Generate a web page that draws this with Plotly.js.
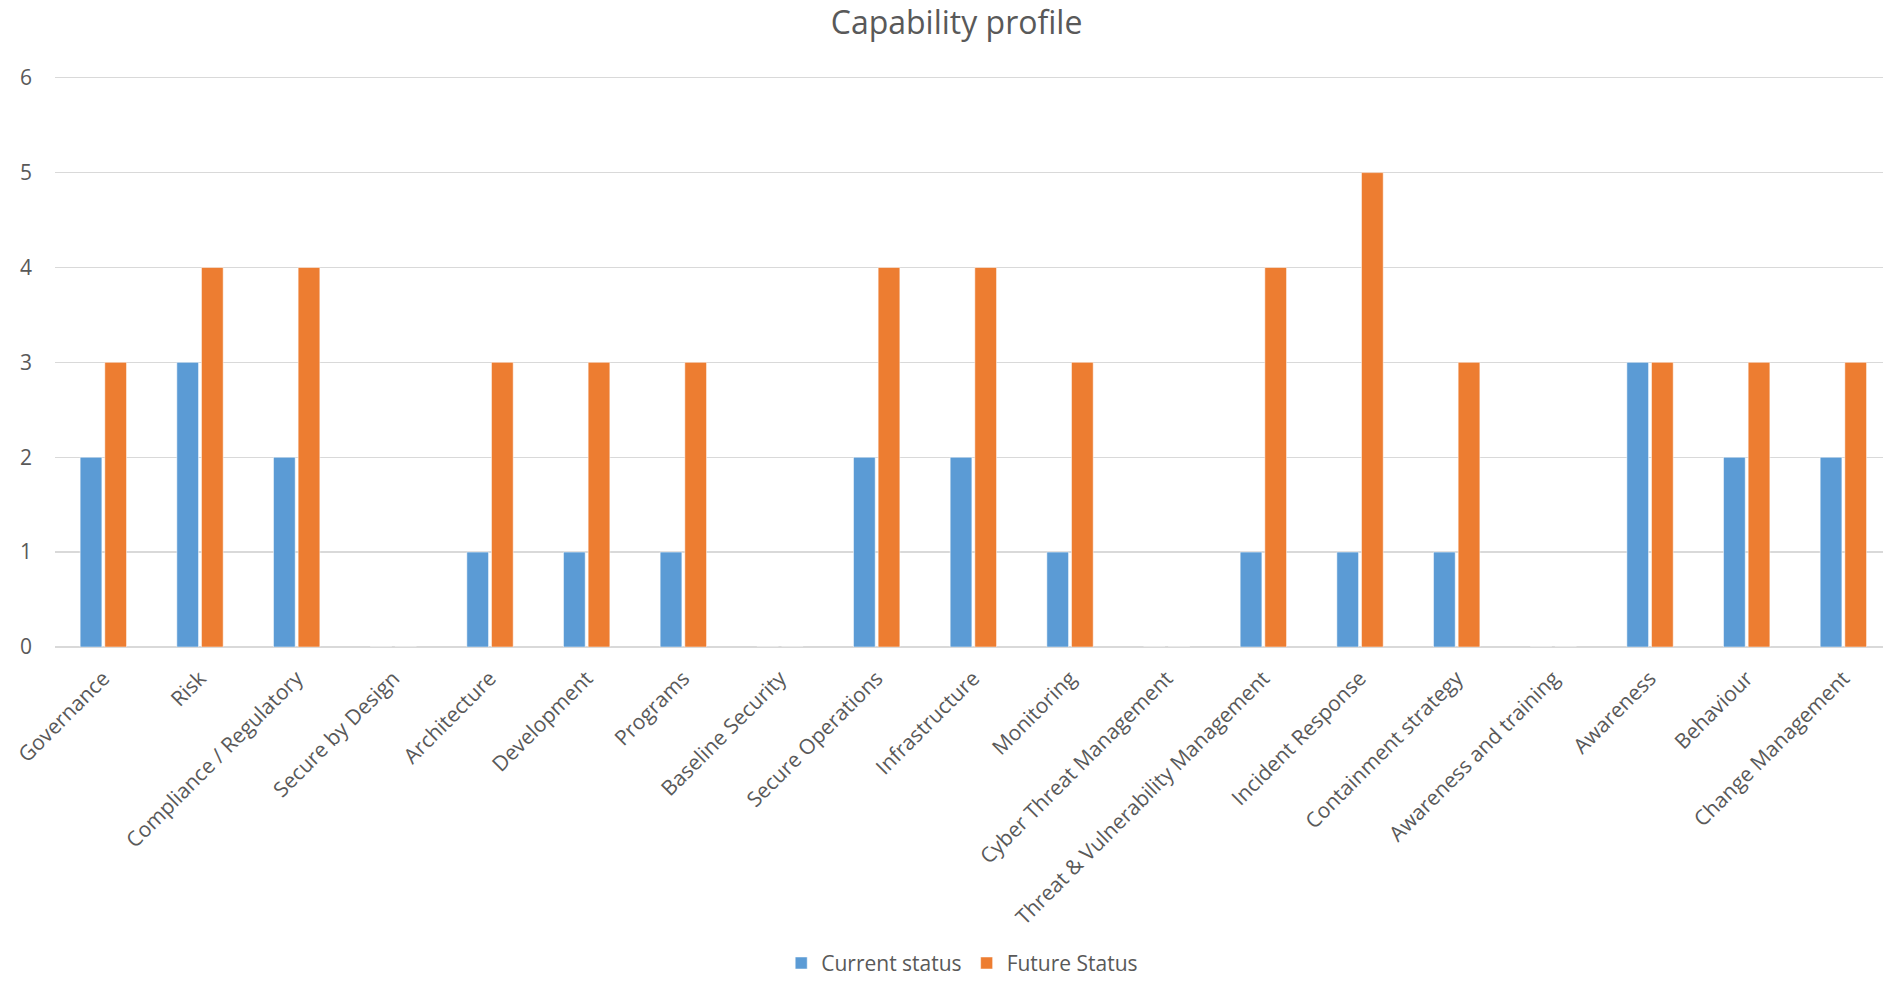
<!DOCTYPE html>
<html>
<head>
<meta charset="utf-8">
<script src="https://cdn.plot.ly/plotly-3.0.1.min.js"></script>
<style>html,body{margin:0;padding:0;background:#fff;}#chart{width:1883px;height:983px;}</style>
</head>
<body>
<div id="chart"></div>
<script>
const categories = [
  "Governance", "Risk", "Compliance / Regulatory", "Secure by Design", "Architecture",
  "Development", "Programs", "Baseline Security", "Secure Operations", "Infrastructure",
  "Monitoring", "Cyber Threat Management", "Threat & Vulnerability Management",
  "Incident Response", "Containment strategy", "Awareness and training", "Awareness",
  "Behaviour", "Change Management"
];
const currentStatus = [2, 3, 2, 0, 1, 1, 1, 0, 2, 2, 1, 0, 1, 1, 1, 0, 3, 2, 2];
const futureStatus  = [3, 4, 4, 0, 3, 3, 3, 0, 4, 4, 3, 0, 4, 5, 3, 0, 3, 3, 3];
const yTicks = [0, 1, 2, 3, 4, 5, 6];
const seriesNames = ["Current status", "Future Status"];

const font = "'Open Sans', 'DejaVu Sans', sans-serif";
const textColor = "#595959";

const data = [
  {type: "bar", name: seriesNames[0], x: categories, y: currentStatus,
   marker: {color: "#5B9BD5", line: {color: "#ffffff", width: 0.5}}},
  {type: "bar", name: seriesNames[1], x: categories, y: futureStatus,
   marker: {color: "#ED7D31", line: {color: "#ffffff", width: 0.5}}}
];

const layout = {
  width: 1883, height: 983,
  margin: {l: 55, r: 0, t: 73, b: 336, pad: 0},
  paper_bgcolor: "#ffffff", plot_bgcolor: "#ffffff",
  font: {family: font, color: textColor, size: 21},
  title: {text: "Capability profile", font: {family: font, size: 32, color: textColor},
          x: 0.508, xref: "container", xanchor: "center", y: 0.977, yref: "container", yanchor: "middle"},
  barmode: "group",
  bargap: 0.49,
  bargroupgap: 0.12,
  showlegend: true,
  legend: {orientation: "h", x: 0.511, xref: "container", xanchor: "center",
           y: 0.02, yref: "container", yanchor: "middle",
           font: {family: font, size: 21, color: textColor}, itemwidth: 30, traceorder: "normal"},
  xaxis: {
    type: "category", categoryorder: "array", categoryarray: categories,
    range: [-0.5, 18.41], tickangle: -45, showgrid: false, showline: false,
    zeroline: false, ticks: "", ticklabelstandoff: 14,
    tickfont: {family: font, size: 21, color: textColor}, fixedrange: true
  },
  yaxis: {
    range: [0, 6.05], tickvals: yTicks, ticktext: yTicks.map(String),
    showgrid: true, gridcolor: "#D9D9D9", gridwidth: 1.5,
    zeroline: true, zerolinecolor: "#D9D9D9", zerolinewidth: 1.5,
    showline: false, ticks: "", ticklabelstandoff: 22,
    tickfont: {family: font, size: 21, color: textColor}, fixedrange: true
  }
};

Plotly.newPlot("chart", data, layout, {displayModeBar: false, staticPlot: true});
</script>
</body>
</html>
